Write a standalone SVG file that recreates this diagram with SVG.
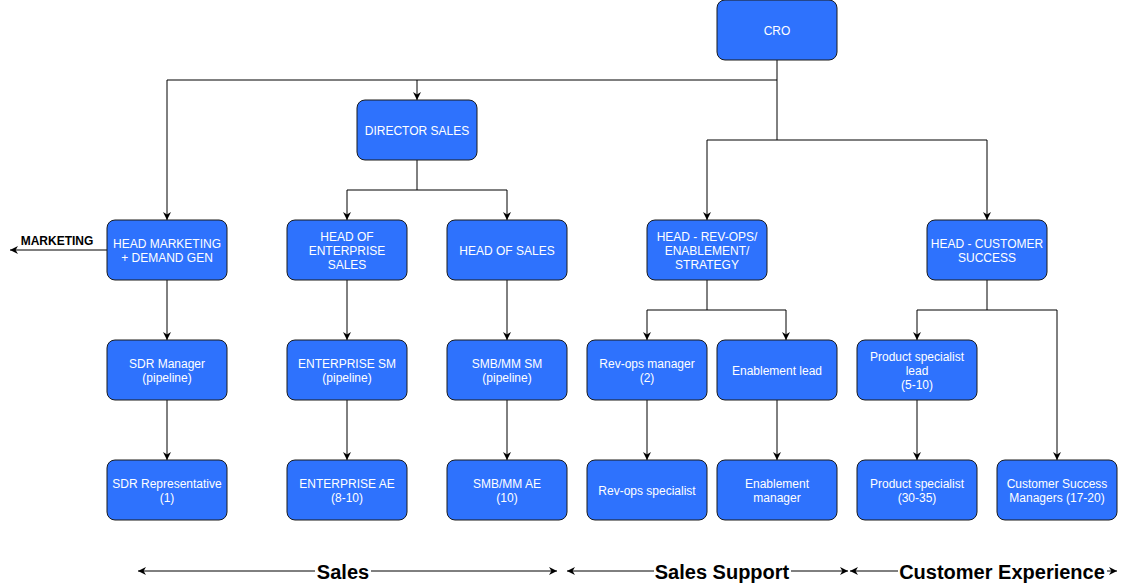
<svg xmlns="http://www.w3.org/2000/svg" width="1140" height="586" viewBox="0 0 1140 586">
<defs>
<marker id="ah" viewBox="0 0 10 10" refX="10" refY="5" markerWidth="8" markerHeight="8" markerUnits="userSpaceOnUse" orient="auto">
<path d="M0,0 L10,5 L0,10 L3,5 Z" fill="#000"/>
</marker>
<marker id="ahs" viewBox="0 0 10 10" refX="10" refY="5" markerWidth="8" markerHeight="8" markerUnits="userSpaceOnUse" orient="auto-start-reverse">
<path d="M0,0 L10,5 L0,10 L3,5 Z" fill="#000"/>
</marker>
</defs>
<style>
.n rect{fill:#2e72fd;stroke:#1a1a1a;stroke-width:1}
.n text{fill:#fff;font-family:"Liberation Sans",Arial,sans-serif;font-size:12px;text-anchor:middle}
.c path{fill:none;stroke:#000;stroke-width:1}
.lbl{font-family:"Liberation Sans",Arial,sans-serif;font-weight:bold;fill:#000}
</style>
<rect width="1140" height="586" fill="#fff"/>
<g id="connectors" class="c">
<path d="M777,60 V140" />
<path d="M777,80 H167 V220" marker-end="url(#ah)"/>
<path d="M417,80 V100" marker-end="url(#ah)"/>
<path d="M777,140 H707 V220" marker-end="url(#ah)"/>
<path d="M777,140 H987 V220" marker-end="url(#ah)"/>
<path d="M417,160 V190 H347 V220" marker-end="url(#ah)"/>
<path d="M417,190 H507 V220" marker-end="url(#ah)"/>
<path d="M107,250 H10" marker-end="url(#ah)"/>
<path d="M167,280 V340" marker-end="url(#ah)"/>
<path d="M167,400 V460" marker-end="url(#ah)"/>
<path d="M347,280 V340" marker-end="url(#ah)"/>
<path d="M347,400 V460" marker-end="url(#ah)"/>
<path d="M507,280 V340" marker-end="url(#ah)"/>
<path d="M507,400 V460" marker-end="url(#ah)"/>
<path d="M707,280 V310 H647 V340" marker-end="url(#ah)"/>
<path d="M707,310 H786 V340" marker-end="url(#ah)"/>
<path d="M647,400 V460" marker-end="url(#ah)"/>
<path d="M777,400 V460" marker-end="url(#ah)"/>
<path d="M987,280 V310 H917 V340" marker-end="url(#ah)"/>
<path d="M987,310 H1057 V460" marker-end="url(#ah)"/>
<path d="M917,400 V460" marker-end="url(#ah)"/>
<path d="M138,571 H557" marker-start="url(#ahs)" marker-end="url(#ahs)"/>
<path d="M567,571 H848" marker-start="url(#ahs)" marker-end="url(#ahs)"/>
<path d="M850,571 H1117" marker-start="url(#ahs)" marker-end="url(#ahs)"/>
</g>
<text class="lbl" x="57" y="245" font-size="12" text-anchor="middle">MARKETING</text>
<g class="lbl" font-size="20">
<rect x="315" y="562" width="56" height="20" fill="#fff"/>
<text x="343" y="579" text-anchor="middle">Sales</text>
<rect x="654" y="562" width="137" height="20" fill="#fff"/>
<text x="722" y="579" text-anchor="middle">Sales Support</text>
<rect x="898" y="562" width="209" height="20" fill="#fff"/>
<text x="1002" y="579" text-anchor="middle">Customer Experience</text>
</g>
<g id="cro" class="n"><rect x="717" y="0" width="120" height="60" rx="8"/><text x="777" y="35">CRO</text></g>
<g id="director-sales" class="n"><rect x="357" y="100" width="120" height="60" rx="8"/><text x="417" y="135">DIRECTOR SALES</text></g>
<g id="head-marketing" class="n"><rect x="107" y="220" width="120" height="60" rx="8"/><text x="167" y="248">HEAD MARKETING</text><text x="167" y="262">+ DEMAND GEN</text></g>
<g id="head-enterprise" class="n"><rect x="287" y="220" width="120" height="60" rx="8"/><text x="347" y="241">HEAD OF</text><text x="347" y="255">ENTERPRISE</text><text x="347" y="269">SALES</text></g>
<g id="head-sales" class="n"><rect x="447" y="220" width="120" height="60" rx="8"/><text x="507" y="255">HEAD OF SALES</text></g>
<g id="head-revops" class="n"><rect x="647" y="220" width="120" height="60" rx="8"/><text x="707" y="241">HEAD - REV-OPS/</text><text x="707" y="255">ENABLEMENT/</text><text x="707" y="269">STRATEGY</text></g>
<g id="head-cs" class="n"><rect x="927" y="220" width="120" height="60" rx="8"/><text x="987" y="248">HEAD - CUSTOMER</text><text x="987" y="262">SUCCESS</text></g>
<g id="sdr-manager" class="n"><rect x="107" y="340" width="120" height="60" rx="8"/><text x="167" y="368">SDR Manager</text><text x="167" y="382">(pipeline)</text></g>
<g id="enterprise-sm" class="n"><rect x="287" y="340" width="120" height="60" rx="8"/><text x="347" y="368">ENTERPRISE SM</text><text x="347" y="382">(pipeline)</text></g>
<g id="smb-sm" class="n"><rect x="447" y="340" width="120" height="60" rx="8"/><text x="507" y="368">SMB/MM SM</text><text x="507" y="382">(pipeline)</text></g>
<g id="revops-manager" class="n"><rect x="587" y="340" width="120" height="60" rx="8"/><text x="647" y="368">Rev-ops manager</text><text x="647" y="382">(2)</text></g>
<g id="enablement-lead" class="n"><rect x="717" y="340" width="120" height="60" rx="8"/><text x="777" y="375">Enablement lead</text></g>
<g id="ps-lead" class="n"><rect x="857" y="340" width="120" height="60" rx="8"/><text x="917" y="361">Product specialist</text><text x="917" y="375">lead</text><text x="917" y="389">(5-10)</text></g>
<g id="sdr-rep" class="n"><rect x="107" y="460" width="120" height="60" rx="8"/><text x="167" y="488">SDR Representative</text><text x="167" y="502">(1)</text></g>
<g id="enterprise-ae" class="n"><rect x="287" y="460" width="120" height="60" rx="8"/><text x="347" y="488">ENTERPRISE AE</text><text x="347" y="502">(8-10)</text></g>
<g id="smb-ae" class="n"><rect x="447" y="460" width="120" height="60" rx="8"/><text x="507" y="488">SMB/MM AE</text><text x="507" y="502">(10)</text></g>
<g id="revops-specialist" class="n"><rect x="587" y="460" width="120" height="60" rx="8"/><text x="647" y="495">Rev-ops specialist</text></g>
<g id="enablement-manager" class="n"><rect x="717" y="460" width="120" height="60" rx="8"/><text x="777" y="488">Enablement</text><text x="777" y="502">manager</text></g>
<g id="product-specialist" class="n"><rect x="857" y="460" width="120" height="60" rx="8"/><text x="917" y="488">Product specialist</text><text x="917" y="502">(30-35)</text></g>
<g id="csm" class="n"><rect x="997" y="460" width="120" height="60" rx="8"/><text x="1057" y="488">Customer Success</text><text x="1057" y="502">Managers (17-20)</text></g>
</svg>
